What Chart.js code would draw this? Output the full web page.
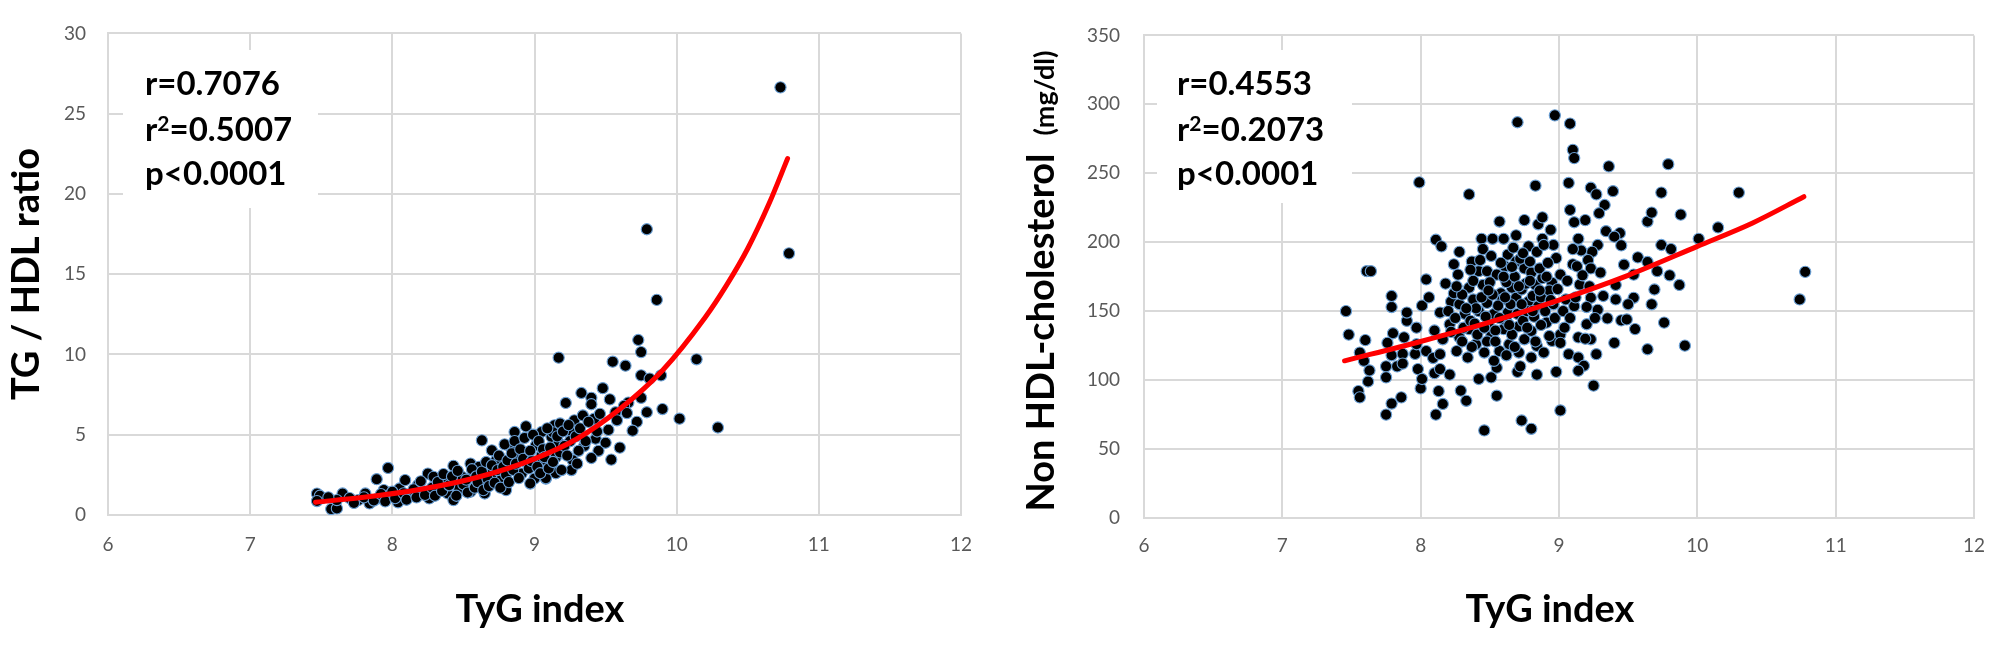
<!DOCTYPE html>
<html><head><meta charset="utf-8">
<script src="https://cdn.jsdelivr.net/npm/chart.js@4.4.1/dist/chart.umd.min.js"></script>
<style>
html,body{margin:0;padding:0;background:#fff;}
#wrap{position:relative;width:2001px;height:645px;overflow:hidden;background:#fff;}
#c1{position:absolute;left:0;top:0;}
#c2{position:absolute;left:1000px;top:0;}
</style></head><body>
<div id="wrap"><canvas id="c1" width="1000" height="645"></canvas><canvas id="c2" width="1001" height="645"></canvas></div>
<script>
// ---------------- DATA ----------------
const xTicks = [6, 7, 8, 9, 10, 11, 12];
const leftYTicks = [0, 5, 10, 15, 20, 25, 30];
const rightYTicks = [0, 50, 100, 150, 200, 250, 300, 350];

const xTitle = "TyG index";
const leftYTitle = "TG / HDL ratio";
const rightYTitle = "Non HDL-cholesterol";
const rightYUnit = "(mg/dl)";

const leftStats = { r: "0.7076", r2: "0.5007", p: "0.0001" };
const rightStats = { r: "0.4553", r2: "0.2073", p: "0.0001" };

// TyG index vs TG/HDL ratio
const leftPoints = [
[7.47,1.33],[7.50,1.03],[7.49,1.20],[7.47,0.87],[7.57,0.37],[7.61,0.41],[7.65,1.34],[7.61,0.93],[7.76,0.93],[7.81,1.34],
[7.89,2.23],[7.97,2.93],[7.94,1.55],[7.98,1.24],[7.90,1.03],[7.84,0.72],[8.05,1.65],[8.09,2.17],[8.04,0.79],[8.13,1.24],
[8.18,1.86],[8.22,1.45],[8.25,2.58],[8.29,2.38],[8.26,1.03],[8.33,1.76],[8.38,2.27],[8.43,3.06],[8.39,1.34],[8.43,0.93],
[8.47,1.65],[8.49,2.38],[8.55,3.20],[8.57,2.58],[8.61,3.00],[8.55,1.45],[8.65,1.34],[8.62,1.86],[8.63,4.65],[8.70,4.03],
[8.73,3.41],[8.70,2.58],[8.77,2.27],[8.80,1.55],[8.83,4.24],[8.86,5.17],[8.94,5.52],[8.88,3.72],[8.95,3.20],[8.91,2.58],
[9.01,4.34],[9.00,2.27],[9.08,2.27],[9.05,5.17],[9.12,4.86],[9.14,5.58],[9.05,3.72],[9.12,3.10],[8.97,1.96],[9.17,9.80],
[9.22,6.98],[9.33,7.60],[9.48,7.90],[9.40,7.30],[9.53,7.20],[9.40,6.90],[9.55,9.55],[9.64,9.30],[9.73,10.90],[9.75,10.15],
[9.86,13.40],[9.79,17.80],[10.73,26.64],[10.79,16.30],[10.14,9.70],[9.75,8.70],[9.81,8.50],[9.89,8.70],[9.75,7.30],[9.66,7.00],
[9.63,6.80],[9.57,6.40],[9.65,6.35],[9.79,6.40],[9.90,6.60],[10.02,6.00],[10.29,5.45],[9.72,5.80],[9.69,5.25],[9.52,5.30],
[9.42,6.00],[9.28,5.90],[9.34,6.20],[9.18,5.70],[9.13,5.15],[9.26,5.20],[9.43,4.75],[9.35,4.30],[9.25,4.60],[9.17,4.50],
[9.31,4.00],[9.45,4.00],[9.40,3.55],[9.54,3.45],[9.27,3.40],[9.15,3.60],[9.06,3.30],[9.26,2.80],[9.15,2.60],[9.08,2.30],
[9.03,2.90],
[7.55,1.10],[7.70,1.05],[7.73,0.75],[7.80,1.10],[7.87,0.90],[7.92,1.30],[7.95,0.85],[8.00,1.45],[8.02,1.05],[8.08,1.35],
[8.10,0.95],[8.15,1.60],[8.17,1.10],[8.20,2.10],[8.23,1.25],[8.28,1.70],[8.30,1.20],[8.32,2.05],[8.35,1.50],[8.36,2.55],
[8.40,1.85],[8.42,2.40],[8.45,1.20],[8.46,2.75],[8.50,1.90],[8.52,2.20],[8.53,1.40],[8.56,2.85],[8.58,1.70],[8.59,2.40],
[8.60,2.05],[8.63,2.70],[8.64,1.55],[8.66,3.30],[8.67,2.25],[8.68,1.80],[8.70,3.10],[8.72,2.00],[8.74,2.80],[8.75,3.70],
[8.76,1.70],[8.78,3.00],[8.79,4.40],[8.80,2.50],[8.81,3.40],[8.82,2.05],[8.84,3.85],[8.85,2.80],[8.86,4.60],[8.87,3.20],
[8.89,2.30],[8.90,4.10],[8.92,3.50],[8.93,4.80],[8.96,2.90],[8.97,4.00],[8.98,3.35],[8.99,5.00],[9.02,3.00],[9.03,4.60],
[9.04,2.60],[9.06,4.10],[9.07,3.60],[9.09,5.40],[9.10,2.90],[9.11,4.20],[9.13,3.30],[9.16,4.90],[9.18,3.90],[9.19,2.80],
[9.20,5.20],[9.21,4.30],[9.23,3.70],[9.24,5.60],[9.29,4.90],[9.30,3.20],[9.32,5.40],[9.36,4.60],[9.38,5.80],[9.44,5.20],
[9.46,6.30],[9.50,4.50],[9.58,5.90],[9.60,4.20]
];

// TyG index vs Non HDL-cholesterol
const rightPoints = [
[7.46,150],[7.48,133],[7.55,92],[7.56,87.5],[7.56,120],[7.59,114],[7.60,129],[7.61,179],[7.64,179],[7.62,99],
[7.63,107],[7.75,75],[7.75,110],[7.75,102],[7.76,127],[7.79,83],[7.79,118],[7.79,153],[7.79,161],[7.80,134],
[7.83,110],[7.86,87.5],[7.87,119],[7.87,112],[7.88,131],[7.90,143],[7.90,149],[7.96,119],[7.97,126],[7.97,138],
[7.98,108],[7.99,243.4],[8.00,94],[8.01,100.8],[8.01,154],[8.04,121],[8.04,173],[8.06,160],[8.09,116],[8.10,105],
[8.10,136],[8.11,75],[8.13,92],
[8.11,201.8],[8.15,197],[8.14,149],[8.14,108],[8.14,118.8],[8.16,129.6],[8.16,82.7],[8.21,104],[8.21,140.5],[8.22,157],
[8.24,163],[8.24,184],[8.27,176.5],[8.28,131],[8.26,121],[8.29,92.4],[8.33,85],[8.32,148],[8.35,137],[8.35,167],
[8.34,116.4],[8.35,234.7],[8.37,186],[8.38,158.5],[8.40,126],[8.42,100.8],[8.42,150],[8.42,179],[8.44,202.5],[8.45,169],
[8.45,195],[8.46,120],[8.46,63.5],[8.48,156],[8.48,179],[8.49,140.5],[8.51,102],[8.51,132],[8.52,202.5],[8.53,148],
[8.55,176.5],[8.55,109],[8.55,88.7],[8.57,121],[8.57,215],[8.58,163],[8.59,158.5],[8.60,137],[8.60,202.5],[8.61,182.5],
[8.63,149],[8.63,191],[8.64,126],[8.66,167],[8.69,159.7],[8.69,186],[8.69,205],[8.70,106],[8.71,139],[8.71,120],
[8.72,110],[8.73,165.7],[8.73,70.7],[8.75,129.6],[8.75,181],[8.75,216],[8.78,157],[8.78,197],[8.80,135.6],[8.80,116.4],
[8.80,178],[8.80,64.7],[8.83,169],[8.83,241],[8.84,104],[8.84,124.8],[8.85,153.7],[8.85,213],[8.88,174],[8.88,202.5],
[8.88,218],[8.89,120],[8.91,141.7],[8.94,209],[8.95,128.4],[8.95,170.5],[8.96,198],[8.97,145],[8.98,106],[8.98,188.5],
[9.01,133],[9.01,176.5],[9.01,78],[8.70,287],[8.97,292],[9.08,286],
[9.10,267],[9.11,261],[9.36,255],[9.79,256.6],[9.07,243],[9.23,239.5],[9.27,234.7],[9.39,237],[9.74,236],[9.08,223.4],
[9.33,227],[9.29,221],[9.19,216],[9.11,214.5],[9.64,215],[9.67,221.5],[9.88,220],[9.34,208],[9.44,206.6],[9.40,204],
[9.45,197.7],[9.14,202.5],[9.28,198],[9.24,193],[9.16,194],[9.74,198],[9.81,195],[9.57,189],[9.64,185.7],[9.47,183.7],
[9.10,184],[9.21,187],[9.23,181],[9.13,182.5],[9.54,176.5],[9.71,179],[9.80,176],[9.87,169],[9.41,169],[9.15,169.3],
[9.69,165.7],[9.32,161],[9.41,158.5],[9.54,159.7],[9.23,159.7],[9.05,158.5],[9.11,153.7],[9.20,153],[9.28,151],[9.50,155],
[9.67,155],[9.35,144.8],[9.45,143.3],[9.49,144],[9.55,137],[9.76,141.7],[9.04,138],[9.14,131],[9.20,140.5],[9.01,127],
[9.23,129.6],[9.27,118.8],[9.40,127],[9.64,122.4],[9.91,125],[9.07,118.8],[9.14,116.4],[9.18,110.4],[9.14,106.8],[9.25,96],
[10.30,236],[10.15,210.7],[10.01,202.5],[10.78,178.5],[10.74,158.5],
[8.20,150],[8.25,145],[8.28,155],[8.30,162],[8.31,138],[8.36,143],[8.38,172],[8.40,152],[8.41,133],[8.44,160],
[8.47,146],[8.50,171],[8.52,162],[8.54,136],[8.56,154],[8.58,185],[8.62,171],[8.62,143],[8.65,155],[8.66,133],
[8.67,196],[8.68,175],[8.70,148],[8.72,188],[8.74,143],[8.76,170],[8.77,150],[8.79,186],[8.81,161],[8.82,146],
[8.84,193],[8.86,181],[8.87,160],[8.90,150],[8.92,185],[8.93,165],[8.96,155],[8.30,128],[8.37,124],[8.48,128],
[8.53,114],[8.62,118],[8.18,170],[8.28,193],
[8.22,135],[8.26,168],[8.33,152],[8.36,180],[8.39,141],[8.43,187],[8.46,138],[8.49,165],[8.51,190],[8.54,128],
[8.57,145],[8.60,175],[8.61,160],[8.64,140],[8.66,182],[8.68,124],[8.71,168],[8.73,155],[8.74,192],[8.77,138],
[8.79,172],[8.81,150],[8.83,128],[8.86,165],[8.87,140],[8.89,198],[8.91,175],[8.93,132],[8.94,158],[8.99,166],
[9.03,150],[9.06,172],[9.08,145],[9.10,195],[9.12,160],[9.17,176],[9.19,130],[9.22,168],[9.26,145],[9.30,178]
];

// trend lines
const trendLeftX = [7.46, 7.8, 8.2, 8.6, 9.0, 9.3, 9.6, 9.9, 10.2, 10.35, 10.5, 10.65, 10.78];
const trendLeftY = [0.8, 1.1, 1.6, 2.35, 3.5, 4.75, 6.6, 9.0, 12.3, 14.3, 16.6, 19.4, 22.2];
const trendRightX = [7.45, 8.0, 8.5, 9.0, 9.5, 10.0, 10.4, 10.77];
const trendRightY = [114, 128, 142, 158, 176, 197, 214, 233];

// ---------------- DRAWING ----------------
const TICK_FONT = { family: 'Lato', size: 19 };
const TICK_COLOR = '#595959';
const GRID_COLOR = '#d9d9d9';

const annotPlugin = {
  id: 'annot',
  beforeDatasetsDraw(chart, args, o) {
    const ctx = chart.ctx;
    ctx.save();
    ctx.fillStyle = '#ffffff';
    ctx.fillRect(o.box[0], o.box[1], o.box[2], o.box[3]);
    ctx.fillStyle = '#000000';
    ctx.textAlign = 'left';
    ctx.textBaseline = 'alphabetic';
    const big = 'bold 33px Lato';
    const sup = 'bold 21px Lato';
    const s = o.stats;
    ctx.font = big;
    ctx.fillText('r=' + s.r, o.sx, o.lines[0]);
    ctx.fillText('r', o.sx, o.lines[1]);
    const wr = ctx.measureText('r').width;
    ctx.font = sup;
    ctx.fillText('2', o.sx + wr, o.lines[1] - 10);
    const w2 = ctx.measureText('2').width;
    ctx.font = big;
    ctx.fillText('=' + s.r2, o.sx + wr + w2, o.lines[1]);
    ctx.fillText('p<' + s.p, o.sx, o.lines[2]);
    ctx.restore();
  },
  afterDraw(chart, args, o) {
    const ctx = chart.ctx;
    ctx.save();
    ctx.fillStyle = '#000000';
    ctx.font = 'bold 38px Lato';
    ctx.textAlign = 'center';
    ctx.textBaseline = 'middle';
    ctx.fillText(xTitle, o.xTitle[0], o.xTitle[1]);
    ctx.translate(o.yTitle[0], o.yTitle[1]);
    ctx.rotate(-Math.PI / 2);
    ctx.textBaseline = 'alphabetic';
    ctx.textAlign = 'left';
    const mainFont = 'bold 38px Lato', unitFont = 'bold 27px Lato';
    ctx.font = mainFont;
    const wMain = ctx.measureText(o.yText).width;
    let wUnit = 0, gap = 0;
    if (o.yUnit) { ctx.font = unitFont; wUnit = ctx.measureText(o.yUnit).width; gap = 18; }
    const total = wMain + gap + wUnit;
    const x0 = -total / 2;
    ctx.font = mainFont;
    ctx.fillText(o.yText, x0, 0);
    if (o.yUnit) { ctx.font = unitFont; ctx.fillText(o.yUnit, x0 + wMain + gap, 0); }
    ctx.restore();
  }
};

function makeChart(id, points, tx, ty, yTicks, cfg) {
  const scatter = points.map(p => ({ x: p[0], y: p[1] }));
  const trend = tx.map((x, i) => ({ x: x, y: ty[i] }));
  return new Chart(document.getElementById(id), {
    type: 'scatter',
    data: {
      datasets: [
        { data: trend, showLine: true, borderColor: '#ff0000', borderWidth: 5, pointRadius: 0,
          cubicInterpolationMode: 'monotone', fill: false, borderCapStyle: 'round' },
        { data: scatter, pointRadius: 5.6, pointHoverRadius: 5.6, backgroundColor: '#000000',
          borderColor: '#6a9fd4', borderWidth: 1.1 }
      ]
    },
    options: {
      responsive: false, animation: false, devicePixelRatio: 1,
      layout: { padding: { left: 0, top: 33, right: cfg.padRight, bottom: 0 } },
      plugins: { legend: { display: false }, tooltip: { enabled: false }, annot: cfg.annot },
      scales: {
        x: {
          type: 'linear', min: xTicks[0], max: xTicks[xTicks.length - 1],
          afterBuildTicks: s => { s.ticks = xTicks.map(v => ({ value: v })); },
          afterFit: s => { s.height = cfg.xHeight; },
          grid: { color: GRID_COLOR, lineWidth: 2, drawTicks: false },
          border: { color: GRID_COLOR, width: 2 },
          ticks: { font: TICK_FONT, color: TICK_COLOR, padding: cfg.xPad, maxRotation: 0 }
        },
        y: {
          type: 'linear', min: yTicks[0], max: yTicks[yTicks.length - 1],
          afterBuildTicks: s => { s.ticks = yTicks.map(v => ({ value: v })); },
          afterFit: s => { s.width = cfg.yWidth; },
          grid: { color: GRID_COLOR, lineWidth: 2, drawTicks: false },
          border: { color: GRID_COLOR, width: 2 },
          ticks: { font: TICK_FONT, color: TICK_COLOR, padding: cfg.yPad }
        }
      }
    },
    plugins: [annotPlugin]
  });
}

function build() {
  makeChart('c1', leftPoints, trendLeftX, trendLeftY, leftYTicks, {
    padRight: 39, xHeight: 130, yWidth: 108, xPad: 18, yPad: 22,
    annot: { box: [123, 50, 195, 158], sx: 145, lines: [95, 141, 185], stats: leftStats,
             xTitle: [540, 610], yTitle: [39, 274], yText: leftYTitle, yUnit: null }
  });
  makeChart('c2', rightPoints, trendRightX, trendRightY, rightYTicks, {
    padRight: 17, xHeight: 127, yWidth: 144, xPad: 16, yPad: 24,
    annot: { box: [157, 50, 195, 153], sx: 177, lines: [95, 141, 185], stats: rightStats,
             xTitle: [550, 610], yTitle: [54, 281], yText: rightYTitle, yUnit: rightYUnit }
  });
}
if (document.fonts && document.fonts.load) {
  Promise.all([document.fonts.load('bold 38px Lato'), document.fonts.load('19px Lato')]).then(build, build);
} else { build(); }
</script>
</body></html>
